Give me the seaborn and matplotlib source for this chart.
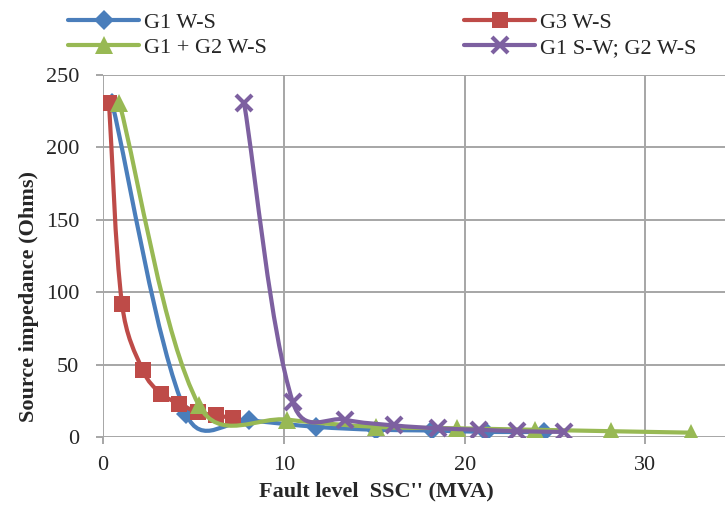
import numpy as np
import pandas as pd
import seaborn as sns
import matplotlib.pyplot as plt
from matplotlib.path import Path
from matplotlib.patches import PathPatch
from matplotlib.lines import Line2D

# values
g1_x = [0.5, 4.6, 8.1, 11.8, 15.1, 18.2, 21.2, 24.4]
g1_y = [231, 16, 11.5, 7, 5, 4.5, 3.5, 3.5]

g3_x = [0.33, 1.05, 2.2, 3.2, 4.2, 5.25, 6.25, 7.2]
g3_y = [231, 92, 46, 30, 23, 17, 15, 13]

g12_x = [0.9, 5.3, 10.2, 15.1, 19.6, 23.9, 28.1, 32.5]
g12_y = [231, 22, 12, 7, 6, 5, 4, 3]

g1sw_x = [7.8, 10.5, 13.4, 16.1, 18.5, 20.8, 22.9, 25.5]
g1sw_y = [231, 24, 12, 8, 6, 5, 4, 3.5]

series = [
    ("G1 W-S", g1_x, g1_y, "#4A7EBB", "D", 10, 0),
    ("G3 W-S", g3_x, g3_y, "#BE4B48", "s", 11, 0),
    ("G1 + G2 W-S", g12_x, g12_y, "#98B954", "^", 13, 0),
    ("G1 S-W; G2 W-S", g1sw_x, g1sw_y, "#7D60A0", "x", 11, 3),
]

sns.set_style("white")
plt.rcParams['font.family'] = ['Liberation Serif', 'DejaVu Serif']

fig = plt.figure(figsize=(7.25, 5.13), dpi=100)
ax = fig.add_axes([103 / 725, 1 - 437 / 513, 622 / 725, 362 / 513])
ax.set_xlim(0, 34.4)
ax.set_ylim(0, 250)


def smooth_path(xs, ys):
    # Excel-like smoothed line: cubic Beziers, tangents partly weighted by segment length
    pts = np.column_stack([xs, ys]).astype(float)
    pix = pts * [622 / 34.4, 362 / 250]
    n = len(pts)
    d = np.linalg.norm(np.diff(pix, axis=0), axis=1)
    verts = [pts[0]]
    codes = [Path.MOVETO]
    for i in range(n - 1):
        p0 = pts[i - 1] if i > 0 else pts[i]
        p1 = pts[i]
        p2 = pts[i + 1]
        p3 = pts[i + 2] if i + 2 < n else pts[i + 1]
        d01 = d[i - 1] if i > 0 else 0
        d12 = d[i]
        d23 = d[i + 1] if i + 2 < n else 0
        w1 = 0.5 / 6 + 0.5 * d12 / (d01 + d12) / 3
        w2 = 0.5 / 6 + 0.5 * d12 / (d12 + d23) / 3
        verts += [p1 + (p2 - p0) * w1, p2 - (p3 - p1) * w2, p2]
        codes += [Path.CURVE4] * 3
    return Path(verts, codes)


handles = {}
for z, (name, xs, ys, color, marker, ms, mew) in enumerate(series):
    patch = PathPatch(smooth_path(xs, ys), facecolor='none', edgecolor=color,
                      lw=3, capstyle='round', joinstyle='round', zorder=3 + 2 * z)
    ax.add_patch(patch)
    df = pd.DataFrame({"x": xs, "y": ys})
    sns.lineplot(data=df, x="x", y="y", ax=ax, color=color, marker=marker,
                 markersize=ms, markeredgewidth=mew if mew else 0,
                 markeredgecolor=color, linestyle='none', sort=False,
                 zorder=4 + 2 * z)
    handles[name] = Line2D([], [], color=color, lw=3, marker=marker,
                           markersize=ms, markeredgewidth=mew if mew else 0,
                           markeredgecolor=color)

ax.set_xlim(0, 34.4)
ax.set_ylim(0, 250)
ax.set_xticks([0, 10, 20, 30])
ax.set_yticks([0, 50, 100, 150, 200, 250])
ax.grid(True, color='#A6A6A6', lw=1.4)
for s in ax.spines.values():
    s.set_visible(False)
ax.tick_params(axis='both', which='both', direction='out', length=5, width=1.4,
               color='#A6A6A6', labelsize=16, bottom=True, left=True)
ax.tick_params(axis='y', pad=12)
ax.tick_params(axis='x', pad=9)

ax.set_xlabel("Fault level  SSC'' (MVA)", fontsize=16, fontweight='bold')
ax.set_ylabel("Source impedance (Ohms)", fontsize=16, fontweight='bold')
ax.xaxis.set_label_coords(0.439, -0.124)
ax.yaxis.set_label_coords(-0.103, 0.387)

order = ["G1 W-S", "G1 + G2 W-S", "G3 W-S", "G1 S-W; G2 W-S"]
fig.legend([handles[k] for k in order], order, ncol=2, loc='upper left',
           bbox_to_anchor=(48 / 725, 1.015), frameon=False, fontsize=16,
           handlelength=3.2, handletextpad=0.2, columnspacing=8.9,
           labelspacing=0.2)

plt.savefig('out.png', dpi=100)
